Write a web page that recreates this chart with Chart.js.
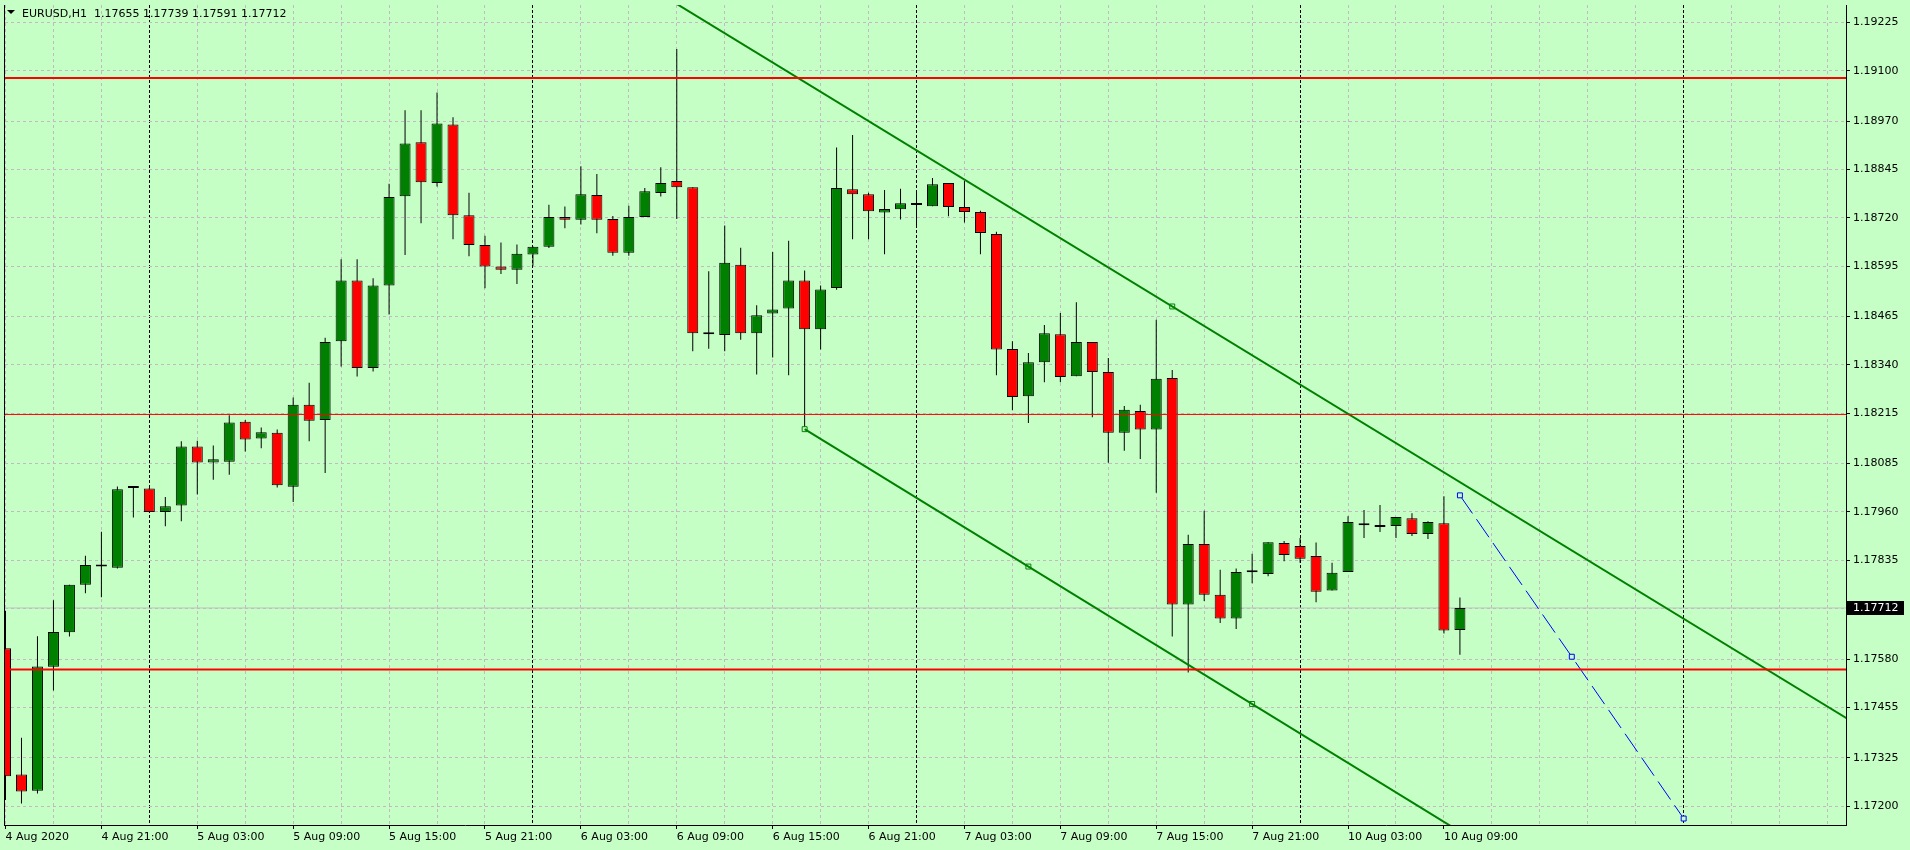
<!DOCTYPE html>
<html>
<head>
<meta charset="utf-8">
<title>EURUSD,H1</title>
<script src="https://cdn.jsdelivr.net/npm/chart.js@4.4.1/dist/chart.umd.min.js"></script>
<style>
  html, body { margin: 0; padding: 0; background: #c6ffc6; overflow: hidden; }
  #chart-box { width: 1910px; height: 850px; position: relative; }
</style>
</head>
<body>
<div id="chart-box"><canvas id="myChart"></canvas></div>
<script>
// Data - EURUSD H1, 4 Aug 15:00 .. 10 Aug 10:00
const symbol = "EURUSD,H1";

const opens = [1.17608,1.17282,1.17240,1.17560,1.17649,1.17772,1.17819,1.17816,1.18022,1.18021,
  1.17960,1.17977,1.18129,1.18088,1.18090,1.18193,1.18150,1.18165,1.18025,1.18237,
  1.18198,1.18401,1.18558,1.18332,1.18545,1.18776,1.18915,1.18810,1.18961,1.18727,
  1.18650,1.18594,1.18586,1.18625,1.18645,1.18722,1.18715,1.18779,1.18717,1.18630,
  1.18722,1.18784,1.18815,1.18799,1.18420,1.18417,1.18599,1.18422,1.18473,1.18486,
  1.18558,1.18432,1.18539,1.18794,1.18781,1.18734,1.18742,1.18758,1.18750,1.18810,
  1.18748,1.18735,1.18678,1.18381,1.18259,1.18347,1.18419,1.18311,1.18399,1.18322,
  1.18165,1.18221,1.18173,1.18306,1.17721,1.17877,1.17746,1.17685,1.17805,1.17800,
  1.17880,1.17872,1.17846,1.17757,1.17805,1.17931,1.17926,1.17924,1.17944,1.17903,
  1.17931,1.17655];

const highs = [1.17705,1.17377,1.17639,1.17732,1.17772,1.17847,1.17909,1.18026,1.18023,1.18022,
  1.17999,1.18143,1.18144,1.18132,1.18210,1.18198,1.18178,1.18173,1.18256,1.18294,
  1.18410,1.18613,1.18613,1.18564,1.18808,1.18998,1.18998,1.19044,1.18980,1.18785,
  1.18674,1.18656,1.18651,1.18646,1.18754,1.18749,1.18853,1.18833,1.18725,1.18751,
  1.18797,1.18851,1.19156,1.18799,1.18582,1.18700,1.18643,1.18494,1.18632,1.18661,
  1.18584,1.18545,1.18902,1.18934,1.18785,1.18792,1.18795,1.18787,1.18823,1.18810,
  1.18815,1.18738,1.18684,1.18401,1.18371,1.18443,1.18474,1.18502,1.18399,1.18358,
  1.18234,1.18237,1.18457,1.18327,1.17901,1.17963,1.17811,1.17814,1.17852,1.17882,
  1.17885,1.17893,1.17881,1.17829,1.17949,1.17965,1.17978,1.17947,1.17957,1.17936,
  1.18001,1.17739];

const lows = [1.17216,1.17207,1.17233,1.17499,1.17638,1.17750,1.17740,1.17814,1.17946,1.17959,
  1.17923,1.17936,1.18005,1.18043,1.18056,1.18116,1.18125,1.18023,1.17986,1.18143,
  1.18061,1.18336,1.18310,1.18323,1.18470,1.18624,1.18706,1.18801,1.18665,1.18621,
  1.18538,1.18575,1.18549,1.18596,1.18642,1.18693,1.18703,1.18680,1.18622,1.18622,
  1.18722,1.18775,1.18717,1.18375,1.18382,1.18375,1.18405,1.18315,1.18359,1.18313,
  1.18174,1.18380,1.18534,1.18665,1.18665,1.18626,1.18716,1.18699,1.18750,1.18724,
  1.18708,1.18626,1.18313,1.18223,1.18190,1.18295,1.18295,1.18311,1.18205,1.18087,
  1.18118,1.18097,1.18010,1.17638,1.17545,1.17730,1.17673,1.17658,1.17776,1.17794,
  1.17833,1.17829,1.17727,1.17757,1.17805,1.17893,1.17908,1.17893,1.17898,1.17890,
  1.17646,1.17591];

const closes = [1.17277,1.17238,1.17561,1.17650,1.17772,1.17823,1.17820,1.18019,1.18023,1.17960,
  1.17975,1.18129,1.18088,1.18096,1.18191,1.18147,1.18166,1.18029,1.18237,1.18196,
  1.18399,1.18558,1.18332,1.18545,1.18774,1.18912,1.18812,1.18964,1.18727,1.18650,
  1.18594,1.18586,1.18627,1.18645,1.18722,1.18715,1.18781,1.18715,1.18630,1.18722,
  1.18789,1.18810,1.18799,1.18422,1.18419,1.18604,1.18422,1.18468,1.18483,1.18558,
  1.18432,1.18535,1.18797,1.18781,1.18737,1.18743,1.18758,1.18753,1.18807,1.18748,
  1.18735,1.18681,1.18380,1.18257,1.18347,1.18422,1.18309,1.18399,1.18322,1.18165,
  1.18224,1.18173,1.18304,1.17721,1.17877,1.17746,1.17685,1.17805,1.17804,1.17882,
  1.17849,1.17839,1.17754,1.17803,1.17934,1.17926,1.17921,1.17947,1.17903,1.17934,
  1.17654,1.17712];

// time labels, one every 6 bars starting at bar 0
const xTickLabels = ["4 Aug 2020", "4 Aug 21:00", "5 Aug 03:00", "5 Aug 09:00", "5 Aug 15:00",
  "5 Aug 21:00", "6 Aug 03:00", "6 Aug 09:00", "6 Aug 15:00", "6 Aug 21:00", "7 Aug 03:00",
  "7 Aug 09:00", "7 Aug 15:00", "7 Aug 21:00", "10 Aug 03:00", "10 Aug 09:00"];
const daySeparators = [9, 33, 57, 81, 105];   // bar index of each 00:00

const yTickValues = [1.19225, 1.19100, 1.18970, 1.18845, 1.18720, 1.18595, 1.18465, 1.18340,
  1.18215, 1.18085, 1.17960, 1.17835, 1.17710, 1.17580, 1.17455, 1.17325, 1.17200];

// objects drawn on the chart
const levels = [1.19081, 1.18212, 1.17553];
const upperChannel = [[40, 1.19323], [116, 1.17407]];
const upperAnchors = [[73, 1.18491]];
const lowerChannel = [[50, 1.18174], [94, 1.17058]];
const lowerAnchors = [[50, 1.18174], [64, 1.17819], [78, 1.17464]];
const projection = [[91, 1.18003], [98, 1.17586], [105, 1.17168]];

// view range (bars / price)
const xMin = -0.03125, xMax = 115.15625;
const yMin = 1.171513, yMax = 1.192699;

const bg = "#c6ffc6";
const gridColor = "#c3b9c3";
const bullColor = "#008000";
const bearColor = "#ff0000";
const last = closes.length - 1;

Chart.defaults.font.family = '"DejaVu Sans", sans-serif';
Chart.defaults.font.size = 11;
Chart.defaults.color = "#000";

const pts = arr => arr.map(p => ({ x: p[0], y: p[1] }));
const hLine = v => [{ x: xMin - 1, y: v }, { x: xMax + 1, y: v }];
const idx = opens.map((_, i) => i);
const xGrid = [];
for (let i = 0; i <= xMax; i += 3) xGrid.push(i);

// background, left frame, symbol line and price tag
const mtFrame = {
  id: "mtFrame",
  beforeDraw(chart) {
    const c = chart.ctx;
    c.save();
    c.fillStyle = bg;
    c.fillRect(0, 0, chart.width, chart.height);
    c.restore();
  },
  afterDraw(chart) {
    const c = chart.ctx;
    const a = chart.chartArea;
    const y = chart.scales.y;
    c.save();
    c.strokeStyle = "#000";
    c.lineWidth = 1;
    c.beginPath();
    c.moveTo(a.left - 0.5, a.top);
    c.lineTo(a.left - 0.5, a.bottom + 1);
    c.stroke();

    const py = Math.round(y.getPixelForValue(closes[last]));
    c.fillStyle = "#000";
    c.fillRect(a.right + 1, py - 7, 57, 14);
    c.fillStyle = "#fff";
    c.font = '11px "DejaVu Sans"';
    c.textAlign = "left";
    c.textBaseline = "middle";
    c.fillText(closes[last].toFixed(5), a.right + 7, py);

    c.fillStyle = "#000";
    c.beginPath();
    c.moveTo(7, 10); c.lineTo(15, 10); c.lineTo(11, 14);
    c.closePath();
    c.fill();
    c.textBaseline = "alphabetic";
    c.fillText(symbol, 22, 17);
    const ohlc = [opens[last], highs[last], lows[last], closes[last]].map(v => v.toFixed(5));
    c.fillText(ohlc.join(" "), 94, 17);
    c.restore();
  }
};

const isSep = c => c.tick && daySeparators.includes(c.tick.value);
const isLabelled = c => c.tick && c.tick.value % 6 === 0 && c.tick.value / 6 < xTickLabels.length;

const ctx = document.getElementById("myChart");

new Chart(ctx, {
  type: "bar",
  data: {
    datasets: [
      // trend lines and levels (foreground)
      { type: "line", data: hLine(levels[0]), borderColor: "#ff0000", borderWidth: 2, pointRadius: 0, order: 0, clip: 0 },
      { type: "line", data: hLine(levels[1]), borderColor: "#ff0000", borderWidth: 1, pointRadius: 0, order: 0, clip: 0 },
      { type: "line", data: hLine(levels[2]), borderColor: "#ff0000", borderWidth: 2, pointRadius: 0, order: 0, clip: 0 },
      { type: "line", data: pts(upperChannel), borderColor: "#008000", borderWidth: 2, pointRadius: 0, order: 0, clip: 0 },
      { type: "line", data: pts(lowerChannel), borderColor: "#008000", borderWidth: 2, pointRadius: 0, order: 0, clip: 0 },
      { type: "line", data: pts(upperAnchors.concat(lowerAnchors)), showLine: false, pointStyle: "rect",
        pointRadius: 3.5, pointBorderWidth: 1, pointBorderColor: "#008000", pointBackgroundColor: bg, order: 0, clip: 0 },
      { type: "line", data: pts(projection), borderColor: "#0000ff", borderWidth: 1, borderDash: [22, 7],
        pointStyle: "rect", pointRadius: 3.5, pointBorderWidth: 1, pointBorderColor: "#0000ff",
        pointBackgroundColor: bg, order: 0, clip: 0 },
      // candle bodies
      {
        data: idx.map(i => ({ x: i, y: [opens[i], closes[i]] })),
        backgroundColor: c => closes[c.dataIndex] > opens[c.dataIndex] ? bullColor : bearColor,
        borderColor: "#000", borderWidth: 1, borderSkipped: false,
        barThickness: 11, minBarLength: 2, inflateAmount: 0, grouped: false, order: 1, clip: 0
      },
      // wicks
      {
        data: idx.map(i => ({ x: i, y: [lows[i], highs[i]] })),
        backgroundColor: "#000", borderWidth: 0,
        barThickness: 1, inflateAmount: 0, grouped: false, order: 2, clip: 0
      },
      // bid line
      { type: "line", data: hLine(closes[last]), borderColor: "#c0c0c0", borderWidth: 1, pointRadius: 0, order: 3, clip: 0 }
    ]
  },
  options: {
    responsive: true,
    maintainAspectRatio: false,
    animation: false,
    events: [],
    layout: { padding: { left: 3, top: 0, right: 0, bottom: 0 } },
    plugins: {
      legend: { display: false },
      tooltip: { enabled: false }
    },
    scales: {
      x: {
        type: "linear",
        min: xMin,
        max: xMax,
        bounds: "data",
        offset: false,
        afterBuildTicks: s => { s.ticks = xGrid.map(v => ({ value: v })); },
        afterFit: s => { s.height = 25; s.paddingLeft = 0; s.paddingRight = 0; },
        grid: {
          offset: false,
          color: c => isSep(c) ? "#000" : gridColor,
          lineWidth: 1,
          tickLength: 4,
          tickColor: c => isLabelled(c) ? "#000" : "rgba(0,0,0,0)"
        },
        border: { display: true, color: "#000", width: 1, dash: c => isSep(c) ? [3, 2] : [3, 3] },
        ticks: {
          autoSkip: false,
          maxRotation: 0,
          minRotation: 0,
          align: "start",
          padding: 2,
          color: "#000",
          callback: v => (v % 6 === 0 && v / 6 < xTickLabels.length) ? xTickLabels[v / 6] : ""
        }
      },
      y: {
        type: "linear",
        position: "right",
        min: yMin,
        max: yMax,
        bounds: "data",
        beginAtZero: false,
        afterBuildTicks: s => { s.ticks = yTickValues.map(v => ({ value: v })); },
        afterFit: s => { s.width = 64; s.paddingTop = 0; s.paddingBottom = 0; },
        grid: { color: gridColor, lineWidth: 1, tickLength: 4, tickColor: "#000" },
        border: { display: true, color: "#000", width: 1, dash: [3, 3] },
        ticks: {
          padding: 3,
          color: "#000",
          callback: v => Math.abs(v - closes[last]) < 0.0002 ? "" : v.toFixed(5)
        }
      }
    }
  },
  plugins: [mtFrame]
});
</script>
</body>
</html>
